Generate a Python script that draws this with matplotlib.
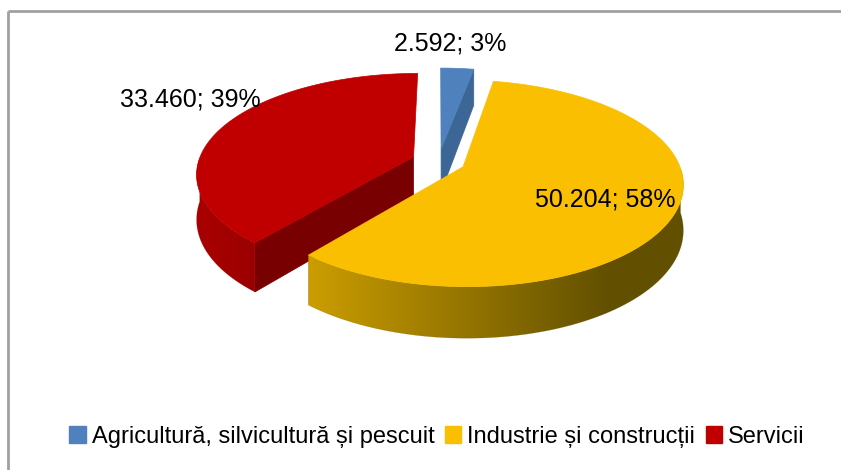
import matplotlib
matplotlib.use("Agg")
import matplotlib.pyplot as plt
from matplotlib.patches import Polygon, Patch
from matplotlib.colors import LinearSegmentedColormap
import numpy as np

# data
categories = ["Agricultură, silvicultură și pescuit", "Industrie și construcții", "Servicii"]
values = [2592, 50204, 33460]
value_labels = ["2.592", "50.204", "33.460"]
top_colors = ["#4F81BD", "#FABF00", "#C00000"]
side_colors = ["#3B6696", "#8A6A00", "#780000"]
# outer wall gradient (left -> right)
wall_grad = [("#3B6696", "#3B6696"), ("#CB9D00", "#625000"), ("#AA0000", "#9A0000")]

# layout of the fake 3D pie (pixels)
cx, cy = 438.6, 161.3
rx, ry = 215.0, 101.5
persp = 0.163
depth = 44.0
explode = 0.125
label_pos = [(450, 44), (605, 200), (190, 99)]

fig = plt.figure(figsize=(8.41, 4.70), dpi=100)
ax = fig.add_axes([0, 0, 1, 1])
ax.set_xlim(0, 841)
ax.set_ylim(470, 0)
ax.axis("off")


def proj(x3, y3, z):
    f = 1 - persp * y3
    return cx + rx * x3 * f, cy - ry * y3 * f + depth * f * z


total = float(sum(values))
fracs = [v / total for v in values]
# clockwise from 12 o'clock
starts = []
a = 90.0
for fr in fracs:
    starts.append((a - 360 * fr, a))  # ccw order: (low, high)
    a -= 360 * fr

slices = []
for i, (lo, hi) in enumerate(starts):
    mid = np.radians((lo + hi) / 2)
    ox, oy = explode * np.cos(mid), explode * np.sin(mid)
    slices.append((lo, hi, ox, oy))

# back slices first (red, blue), then yellow in front
order = [2, 0, 1]
for i in order:
    lo, hi, ox, oy = slices[i]
    th = np.radians(np.linspace(lo, hi, 200))

    # radial walls facing the viewer
    for edge, normal in ((lo, lo - 90), (hi, hi + 90)):
        if np.sin(np.radians(normal)) < -0.05:
            e = np.radians(edge)
            p0 = proj(ox, oy, 0)
            p1 = proj(ox + np.cos(e), oy + np.sin(e), 0)
            p2 = proj(ox + np.cos(e), oy + np.sin(e), 1)
            p3 = proj(ox, oy, 1)
            ax.add_patch(Polygon([p0, p1, p2, p3], closed=True,
                                 facecolor=side_colors[i], edgecolor=side_colors[i], lw=0.5))

    # outer curved wall (front half only), shaded with a horizontal gradient
    front = th[np.sin(th) <= 0]
    if len(front) > 1:
        top = [proj(ox + np.cos(t), oy + np.sin(t), 0) for t in front]
        bot = [proj(ox + np.cos(t), oy + np.sin(t), 1) for t in front[::-1]]
        wall = Polygon(top + bot, closed=True, facecolor="none", edgecolor="none")
        ax.add_patch(wall)
        xs = [p[0] for p in top + bot]
        ys = [p[1] for p in top + bot]
        x0, x1 = min(xs), max(xs)
        c0, c1 = wall_grad[i]
        cmap = LinearSegmentedColormap.from_list("w%d" % i, [c0, c1])
        if i == 1:
            # darkest reached around x = 610, then flat
            span = 610 - x0
            g = np.clip((np.linspace(x0, x1, 256) - x0) / span, 0, 1)[None, :]
        else:
            g = np.linspace(0, 1, 256)[None, :]
        im = ax.imshow(g, cmap=cmap, vmin=0, vmax=1, aspect="auto",
                       extent=(x0 - 1, x1 + 1, max(ys) + 1, min(ys) - 1), zorder=1)
        im.set_clip_path(wall)
        ax.add_patch(Polygon(top + bot, closed=True, facecolor="none",
                             edgecolor=c1, lw=0.3, alpha=0.4, zorder=1))

    # top face
    pts = [proj(ox, oy, 0)] + [proj(ox + np.cos(t), oy + np.sin(t), 0) for t in th]
    ax.add_patch(Polygon(pts, closed=True, facecolor=top_colors[i],
                         edgecolor=top_colors[i], lw=0.5, zorder=1))

ax.set_xlim(0, 841)
ax.set_ylim(470, 0)

# data labels
for i in range(len(values)):
    pct = round(100 * fracs[i])
    ax.text(label_pos[i][0], label_pos[i][1], f"{value_labels[i]}; {pct}%",
            ha="center", va="center", fontsize=18, family="Liberation Sans",
            color="black", zorder=3)

# chart border (top and left visible)
ax.plot([8.5, 841], [10.5, 10.5], color="#A0A0A0", lw=2, solid_capstyle="butt")
ax.plot([8.5, 8.5], [10.5, 470], color="#A0A0A0", lw=2, solid_capstyle="butt")

handles = [Patch(facecolor=c, edgecolor=c) for c in top_colors]
ax.legend(handles, categories, loc="center", bbox_to_anchor=(437 / 841, 1 - 437 / 470),
          ncol=3, frameon=False, handlelength=0.7, handleheight=0.7, handletextpad=0.25,
          columnspacing=0.45, prop={"family": "Liberation Sans", "size": 17})

fig.savefig("out.png", dpi=100)
